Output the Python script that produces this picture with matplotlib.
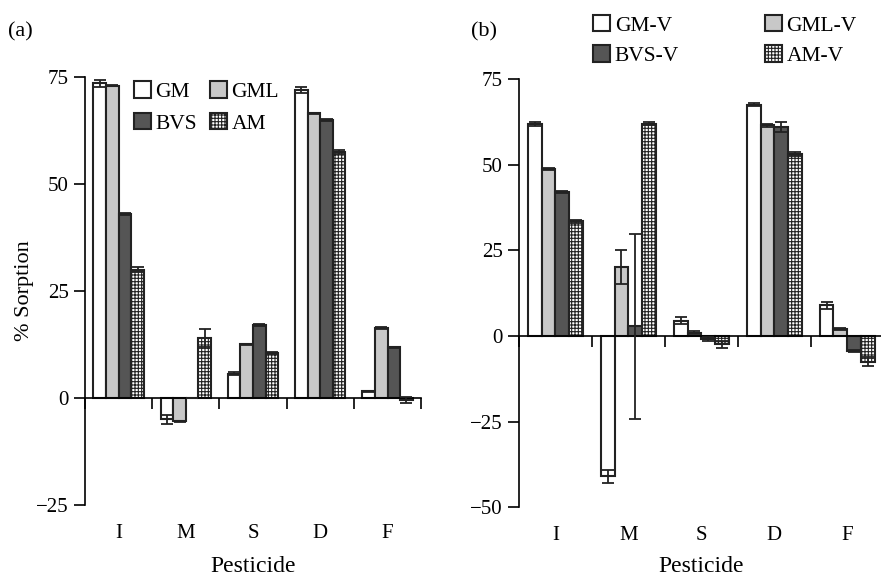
import matplotlib.pyplot as plt
import numpy as np
from matplotlib.transforms import blended_transform_factory

plt.rcParams['font.family'] = ['Liberation Serif', 'DejaVu Serif']
plt.rcParams['hatch.linewidth'] = 0.8

pesticides = ['I', 'M', 'S', 'D', 'F']

# Panel (a): sorption on sorbents
series_a = ['GM', 'GML', 'BVS', 'AM']
gm = [73.5, -5.0, 5.7, 72.0, 1.5]
gm_err = [0.8, 1.0, 0.3, 0.7, 0.2]
gml = [73.0, -5.5, 12.5, 66.5, 16.3]
gml_err = [0.2, 0.2, 0.2, 0.2, 0.2]
bvs = [43.0, 0.0, 17.0, 65.0, 11.8]
bvs_err = [0.2, 0.0, 0.2, 0.2, 0.2]
am = [30.0, 14.0, 10.5, 57.5, -0.5]
am_err = [0.6, 2.2, 0.2, 0.4, 0.6]

# Panel (b): sorption on vermicompost-amended sorbents
series_b = ['GM-V', 'GML-V', 'BVS-V', 'AM-V']
gmv = [62.0, -41.0, 4.5, 67.5, 9.0]
gmv_err = [0.6, 2.0, 1.0, 0.5, 1.0]
gmlv = [48.8, 20.2, 1.0, 61.5, 2.0]
gmlv_err = [0.3, 5.0, 0.4, 0.5, 0.4]
bvsv = [42.0, 2.8, -1.0, 61.0, -4.5]
bvsv_err = [0.2, 27.0, 0.6, 1.6, 0.3]
amv = [33.5, 62.0, -2.5, 53.0, -7.5]
amv_err = [0.4, 0.4, 1.0, 0.6, 1.3]

fills = ['white', '#c8c8c8', '#555555', 'white']
hatches = [None, None, None, '+++++']


def draw_panel(ax, values, errors, names, ylim, yticks):
    x = np.arange(len(pesticides))
    w = 0.1875
    handles = []
    for i, (vals, errs) in enumerate(zip(values, errors)):
        pos = x + (i - 1.5) * w
        b = ax.bar(pos, vals, w, color=fills[i], edgecolor='#222222',
                   linewidth=1.5, hatch=hatches[i], label=names[i], zorder=2)
        ax.errorbar(pos, vals, yerr=errs, fmt='none', ecolor='#222222',
                    elinewidth=1.3, capsize=4, capthick=1.3, zorder=3)
        handles.append(b)
    ax.set_xlim(-0.5, len(pesticides) - 0.5)
    ax.set_ylim(*ylim)
    ax.set_yticks(yticks)
    ax.set_yticklabels([str(t).replace('-', '\u2212') for t in yticks],
                       fontsize=15)
    ax.spines['top'].set_visible(False)
    ax.spines['right'].set_visible(False)
    ax.spines['bottom'].set_position(('data', 0))
    ax.spines['left'].set_linewidth(1.2)
    ax.spines['bottom'].set_linewidth(1.2)
    ax.set_xticks(np.arange(len(pesticides) + 1) - 0.5)
    ax.set_xticklabels([])
    ax.tick_params(axis='x', direction='out', length=8, width=1.2)
    ax.tick_params(axis='y', direction='out', length=8, width=1.2)
    tr = blended_transform_factory(ax.transData, ax.transAxes)
    for xi, lab in zip(x, pesticides):
        ax.text(xi, -0.045, lab, transform=tr, ha='center', va='top',
                fontsize=15)
    # legend order: matplotlib fills columns first, reference reads by rows
    order = [0, 2, 1, 3]
    return [handles[k] for k in order], [names[k] for k in order]


fig = plt.figure(figsize=(8.81, 5.77), dpi=100)
ax1 = fig.add_axes([0.0965, 0.125, 0.3815, 0.7415])
ax2 = fig.add_axes([0.589, 0.121, 0.414, 0.742])

h1, l1 = draw_panel(ax1, [gm, gml, bvs, am], [gm_err, gml_err, bvs_err, am_err],
                    series_a, (-25, 75), [-25, 0, 25, 50, 75])
h2, l2 = draw_panel(ax2, [gmv, gmlv, bvsv, amv],
                    [gmv_err, gmlv_err, bvsv_err, amv_err],
                    series_b, (-50, 75), [-50, -25, 0, 25, 50, 75])

ax1.set_ylabel('% Sorption', fontsize=16, labelpad=2)

ax1.legend(h1, l1, ncol=2, loc='upper left',
           bbox_to_anchor=(0.12, 1.01), frameon=False, fontsize=15.5,
           handlelength=0.8, handleheight=0.8, handletextpad=0.2,
           columnspacing=0.6, labelspacing=0.5, borderaxespad=0)
ax2.legend(h2, l2, ncol=2, loc='upper left',
           bbox_to_anchor=(0.18, 1.17), frameon=False, fontsize=15.5,
           handlelength=0.8, handleheight=0.8, handletextpad=0.2,
           columnspacing=4.0, labelspacing=0.45, borderaxespad=0)

fig.text(0.009, 0.945, '(a)', fontsize=16, va='center')
fig.text(0.535, 0.945, '(b)', fontsize=16, va='center')
fig.text(0.0965 + 0.3815 / 2, 0.019, 'Pesticide', fontsize=17,
         ha='center', va='center')
fig.text(0.589 + 0.414 / 2, 0.019, 'Pesticide', fontsize=17,
         ha='center', va='center')

fig.savefig('out.png', dpi=100)
